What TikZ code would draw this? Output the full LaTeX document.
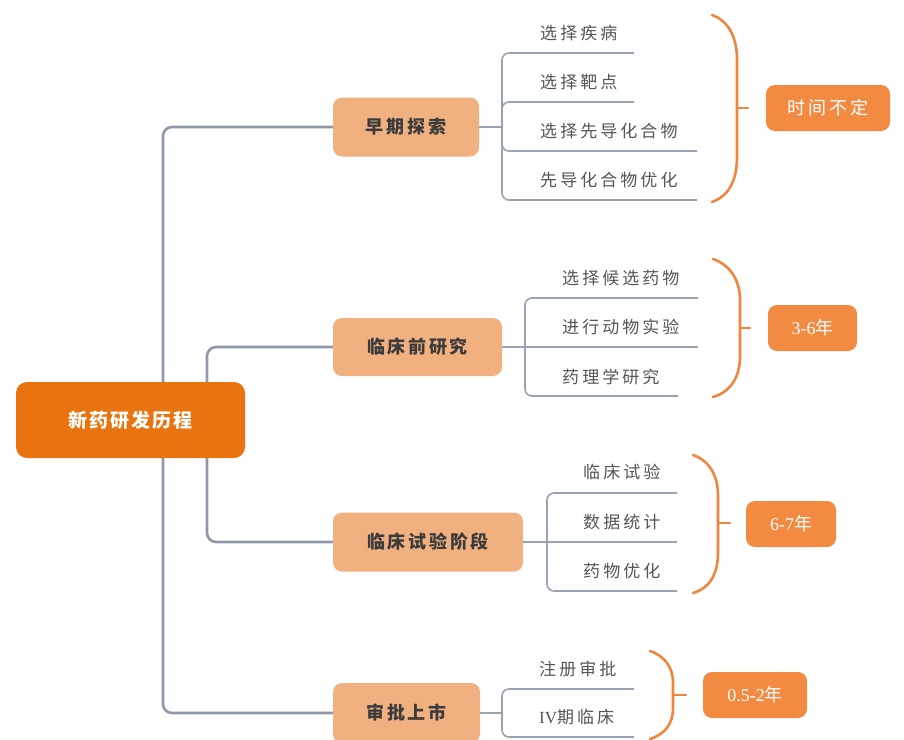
\documentclass[tikz,border=0pt]{standalone}
\usepackage{fontspec}
\setmainfont{Liberation Serif}
\newfontfamily\cjkleaf[LetterSpace=18]{Noto Sans CJK SC}
\newfontfamily\cjklvl[LetterSpace=15]{Noto Sans CJK SC}
\newfontfamily\cjkroot[LetterSpace=10]{Noto Sans CJK SC}
\newfontfamily\cjk{Noto Sans CJK SC}
\definecolor{linec}{HTML}{8E98AA}
\definecolor{linecb}{HTML}{9AA3B3}
\definecolor{rootc}{HTML}{E8730F}
\definecolor{lvlc}{HTML}{F0B080}
\definecolor{timec}{HTML}{F28A42}
\definecolor{leaftext}{HTML}{555555}
\definecolor{lvltext}{HTML}{3B3B3B}
\definecolor{bracec}{HTML}{F08540}
\tikzset{
  trunk/.style={draw=linec, line width=2.6pt, rounded corners=9pt},
  branch/.style={draw=linecb, line width=1.6pt, rounded corners=7pt},
  brace/.style={draw=bracec, line width=2.6pt, line cap=round},
  rootbox/.style={fill=rootc, rounded corners=11pt, text=white, inner sep=0pt,
    font=\fontsize{19}{21}\selectfont\cjkroot\bfseries},
  lvlbox/.style={fill=lvlc, rounded corners=9pt, text=lvltext, inner sep=0pt,
    font=\fontsize{18}{20}\selectfont\cjklvl\bfseries},
  timebox/.style={fill=timec, rounded corners=9pt, text=white, inner sep=0pt,
    minimum height=46pt, font=\fontsize{18}{20}\selectfont\cjklvl},
  leaf/.style={anchor=west, inner sep=0pt, text=leaftext,
    font=\fontsize{17}{19}\selectfont\cjkleaf}
}
\begin{document}
\begin{tikzpicture}[x=1pt,y=-1pt]
\clip (0,0) rectangle (904,739);
\fill[white] (0,0) rectangle (904,739);
% level-1 boxes
\node[lvlbox, minimum width=146pt, minimum height=59pt] (e) at (406,127) {早期探索};
\node[lvlbox, minimum width=169pt, minimum height=58pt] (p) at (417.5,347) {临床前研究};
\node[lvlbox, minimum width=190pt, minimum height=59pt] (c) at (428,542) {临床试验阶段};
\node[lvlbox, minimum width=147pt, minimum height=60pt] (s) at (406.5,713) {审批上市};
% trunks
\coordinate (t1) at (163,420);
\coordinate (t2) at (207,420);
\draw[trunk] (e.west) -| (t1) |- (s.west);
\draw[trunk] (p.west) -| (t2) |- (c.west);
% root
\node[rootbox, minimum width=229pt, minimum height=76pt] (r) at (130.5,420) {新药研发历程};
% group 1
\coordinate (j1) at (502,127);
\coordinate (u11) at (634,53);
\coordinate (u12) at (634,102);
\coordinate (u13) at (697,151);
\coordinate (u14) at (697,200);
\draw[branch] (e.east) -- (j1);
\draw[branch] (j1) |- (u11);
\draw[branch] (j1) |- (u12);
\draw[branch] (j1) |- (u13);
\draw[branch] (j1) |- (u14);
\node[leaf] (l11) at (540,33) {选择疾病};
\node[leaf] (l12) at (540,82) {选择靶点};
\node[leaf] (l13) at (540,131) {选择先导化合物};
\node[leaf] (l14) at (540,180) {先导化合物优化};
\draw[brace] (712,15) .. controls (729,21) and (737,38) .. (737,60) -- (737,157) .. controls (737,180) and (729,196) .. (712,202);
\draw[brace] (737,108) -- (748,108);
\node[timebox, minimum width=124pt] (tb1) at (828,108) {时间不定};
% group 2
\coordinate (j2) at (525,347);
\coordinate (u21) at (698,298);
\coordinate (u22) at (698,347);
\coordinate (u23) at (678,396);
\draw[branch] (p.east) -- (u22);
\draw[branch] (j2) |- (u21);
\draw[branch] (j2) |- (u23);
\node[leaf] (l21) at (562,278) {选择候选药物};
\node[leaf] (l22) at (562,327) {进行动物实验};
\node[leaf] (l23) at (562,377) {药理学研究};
\draw[brace] (713,259) .. controls (730,265) and (740,280) .. (740,300) -- (740,356) .. controls (740,378) and (730,392) .. (713,397);
\draw[brace] (740,328) -- (750,328);
\node[timebox, minimum width=89pt, font=\fontsize{18}{20}\selectfont] (tb2) at (812.5,328) {3-6{\cjk 年}};
% group 3
\coordinate (j3) at (547,542);
\coordinate (u31) at (677,493);
\coordinate (u32) at (677,542);
\coordinate (u33) at (677,591);
\draw[branch] (c.east) -- (u32);
\draw[branch] (j3) |- (u31);
\draw[branch] (j3) |- (u33);
\node[leaf] (l31) at (583,472) {临床试验};
\node[leaf] (l32) at (583,522) {数据统计};
\node[leaf] (l33) at (583,571) {药物优化};
\draw[brace] (693,455) .. controls (710,461) and (718,476) .. (718,496) -- (718,552) .. controls (718,574) and (710,588) .. (693,593);
\draw[brace] (718,523) -- (730,523);
\node[timebox, minimum width=90pt, font=\fontsize{18}{20}\selectfont] (tb3) at (791,524) {6-7{\cjk 年}};
% group 4
\coordinate (j4) at (502,713);
\coordinate (u41) at (634,689);
\coordinate (u42) at (634,737);
\draw[branch] (s.east) -- (j4);
\draw[branch] (j4) |- (u41);
\draw[branch] (j4) |- (u42);
\node[leaf] (l41) at (539,669) {注册审批};
\node[leaf] (l42) at (539,717) {{\fontspec{Liberation Serif}IV}期临床};
\draw[brace] (650,651) .. controls (665,656) and (673,668) .. (673,682) -- (673,708) .. controls (673,724) and (665,734) .. (650,739);
\draw[brace] (673,695) -- (686,695);
\node[timebox, minimum width=104pt, font=\fontsize{18}{20}\selectfont] (tb4) at (755,695) {0.5-2{\cjk 年}};
\end{tikzpicture}
\end{document}
